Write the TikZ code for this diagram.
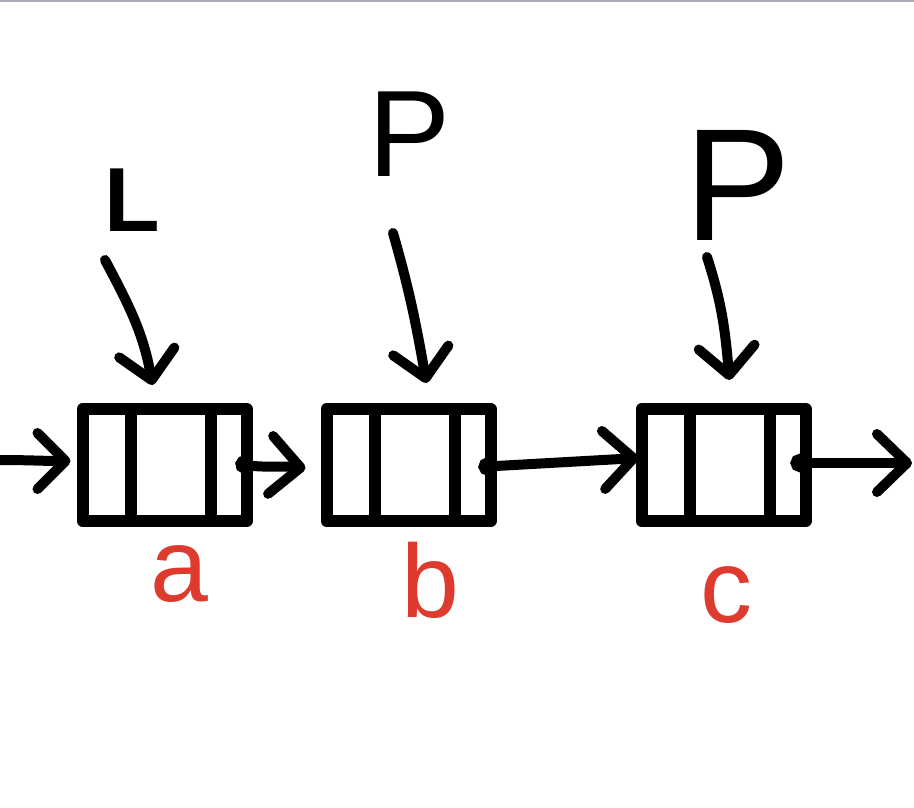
\documentclass[tikz,border=0pt]{standalone}
\usepackage{fontspec}
\setmainfont{Liberation Sans}
\usetikzlibrary{arrows.meta,positioning}
\definecolor{inkred}{RGB}{222,58,46}
\definecolor{topline}{RGB}{172,170,188}

\begin{document}
\begin{tikzpicture}[x=1pt, y=1pt,
	cell/.style={draw, line width=12pt, line join=round, minimum width=164pt, minimum height=112pt, inner sep=0pt},
	ptr/.style={line width=10pt, line cap=round, -{Straight Barb[length=28pt, width=56pt, round]}},
	link/.style={line width=10pt, line cap=round, {Circle[length=18pt]}-{Straight Barb[length=30pt, width=58pt, round]}},
	ptrname/.style={font=\fontsize{#1pt}{#1pt}\selectfont, inner sep=0pt},
	val/.style={text=inkred, font=\fontsize{104pt}{104pt}\selectfont, inner sep=0pt}]

\useasboundingbox (0,0) rectangle (914,-808);
\draw[topline, line width=2pt] (0,-1.5) -- (914,-1.5);

\def \dl {54}  % first divider, from the left side
\def \dr {134} % second divider

% the three nodes of the list
\foreach \n/\x/\lx/\ly in {a/164.5/179/574, b/408.5/430/580, c/723.5/726/595}
{
	\node[cell] (\n) at (\x,-465) {};
	\draw[line width=12pt] ([xshift=\dl pt]\n.north west) -- ([xshift=\dl pt]\n.south west);
	\draw[line width=12pt] ([xshift=\dr pt]\n.north west) -- ([xshift=\dr pt]\n.south west);
	\node[val] (\n-val) at (\lx,-\ly) {\n};
}

% pointers
\node[ptrname=91] (L) at (132,-200) {\bfseries L};
\node[ptrname=123] (P1) at (410,-134) {P};
\node[ptrname=160] (P2) at (738,-185) {P};

\coordinate (L-tail) at (105,-260);
\coordinate (P1-tail) at (393,-233);
\coordinate (P2-tail) at (707,-257);

\draw[ptr] (L-tail) to[out=-62, in=100] ([xshift=-12pt, yshift=18pt]a.north);
\draw[ptr] (P1-tail) to[out=-74, in=100] ([xshift=18pt, yshift=20pt]b.north);
\draw[ptr] (P2-tail) to[out=-72, in=95] ([xshift=6pt, yshift=23pt]c.north);

% links
\coordinate (in) at (0,-460);
\coordinate (out) at (912,-463);

\draw[ptr] (in) to[out=0, in=180] ([xshift=-6pt, yshift=4pt]a.west);
\draw[link] ([xshift=-17pt, yshift=2pt]a.east) to[out=-10, in=175] ([xshift=-15pt, yshift=-3pt]b.west);
\draw[link] ([xshift=-18pt, yshift=-2pt]b.east) -- ([xshift=3pt, yshift=7pt]c.west);
\draw[link] ([xshift=-21pt, yshift=2pt]c.east) -- (out);
\end{tikzpicture}
\end{document}
